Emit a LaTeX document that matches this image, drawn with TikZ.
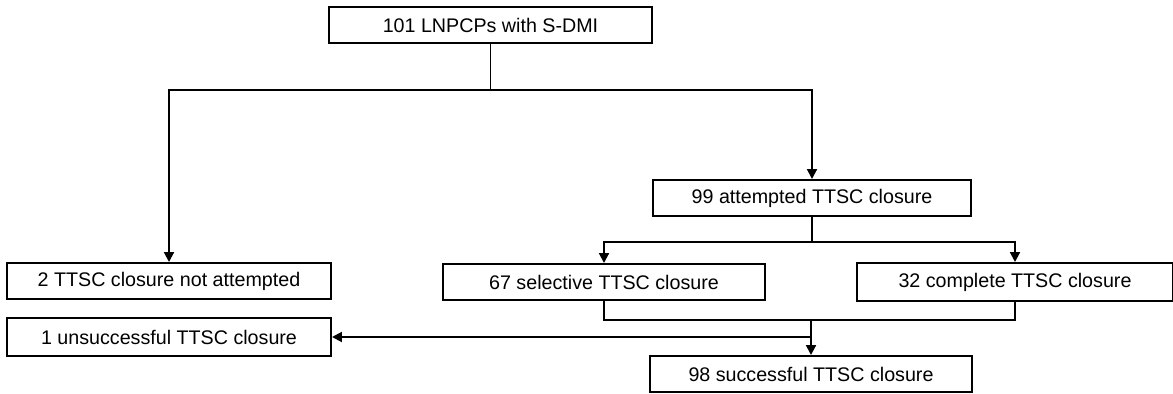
\documentclass[tikz,border=0pt]{standalone}
\usepackage{fontspec}
\setmainfont{Liberation Sans}
\usepackage{tikz}
\usetikzlibrary{positioning,arrows.meta,calc}

\begin{document}
\begin{tikzpicture}[
  box/.style={draw, line width=1.4pt, minimum height=0.9cm, inner sep=0pt,
    font=\fontsize{14}{16}\selectfont},
  flow/.style={line width=1.4pt},
  flowarrow/.style={line width=1.4pt, -{Triangle[length=7pt,width=7pt]}}
]
\useasboundingbox (0,0) rectangle (29.325,-9.85);

% Boxes
\node[box, minimum width=8.075cm] (lnpcp) at (12.2625,-0.625) {101 LNPCPs with S-DMI};
\node[box, minimum width=7.95cm] (attempt) at (20.3,-4.95) {99 attempted TTSC closure};
\node[box, minimum width=8.1cm] (notatt) at (4.225,-7.025) {2 TTSC closure not attempted};
\node[box, minimum width=8.05cm] (selective) at (15.1,-7.05) {67 selective TTSC closure};
\node[box, minimum width=7.9cm, minimum height=0.95cm] (complete) at (25.375,-7.05) {32 complete TTSC closure};
\node[box, minimum width=8.1cm, minimum height=0.95cm] (unsucc) at (4.225,-8.425) {1 unsuccessful TTSC closure};
\node[box, minimum width=8.05cm] (succ) at (20.275,-9.35) {98 successful TTSC closure};

% First split
\coordinate (split1) at ($(lnpcp.south)+(0,-1.15)$);
\draw[flowarrow] (lnpcp.south) -- (split1) -| (notatt.north);
\draw[flowarrow] (split1) -| (attempt.north);

% Second split
\coordinate (split2) at ($(attempt.south)+(0,-0.625)$);
\draw[flowarrow] (attempt.south) -- (split2) -| (selective.north);
\draw[flowarrow] (split2) -| (complete.north);

% Merge
\coordinate (merge) at (succ.north |- 0,-8.0);
\draw[flow] (selective.south) |- (merge);
\draw[flow] (complete.south) |- (merge);
\draw[flowarrow] (merge) -- (succ.north);
\draw[flowarrow] (merge |- unsucc.east) -- (unsucc.east);

\end{tikzpicture}
\end{document}
